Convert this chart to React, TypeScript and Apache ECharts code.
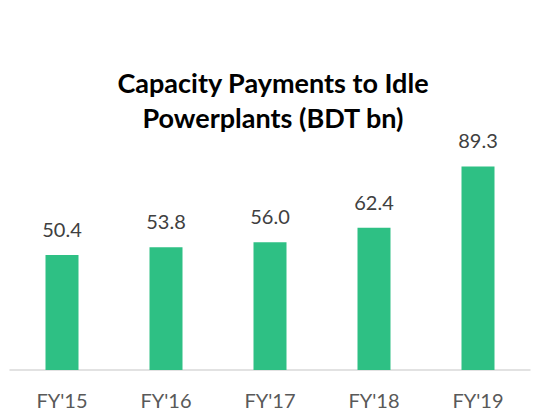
import React, { useEffect, useRef } from "react";
import * as echarts from "echarts";

const categories = ["FY'15", "FY'16", "FY'17", "FY'18", "FY'19"];
const values = [50.4, 53.8, 56.0, 62.4, 89.3];
const titleText = "Capacity Payments to Idle\nPowerplants (BDT bn)";

export default function App() {
  const ref = useRef<HTMLDivElement>(null);
  useEffect(() => {
    if (!ref.current) return;
    const chart = echarts.init(ref.current, undefined, { renderer: "svg" });
    chart.setOption({
      animation: false,
      backgroundColor: "#ffffff",
      title: {
        text: titleText,
        left: 268,
        textAlign: "center",
        top: 60,
        textStyle: {
          fontFamily: "Lato",
          fontWeight: "bold",
          fontSize: 27,
          lineHeight: 35,
          color: "#000000",
        },
      },
      grid: { left: 10, right: 4, top: 142, bottom: 41, containLabel: false },
      xAxis: {
        type: "category",
        data: categories,
        axisLine: { show: true, lineStyle: { color: "#d9d9d9", width: 1.5 } },
        axisTick: { show: false },
        axisLabel: {
          margin: 20,
          fontFamily: "Lato",
          fontSize: 20,
          color: "#595959",
        },
      },
      yAxis: {
        type: "value",
        min: 0,
        max: 100,
        show: false,
        splitLine: { show: false },
      },
      series: [
        {
          type: "bar",
          data: values,
          barWidth: 33,
          itemStyle: { color: "#2ec084" },
          label: {
            show: true,
            position: "top",
            distance: 16,
            fontFamily: "Lato",
            fontSize: 20,
            color: "#404040",
            formatter: (p: any) => Number(p.value).toFixed(1),
          },
        },
      ],
    });
    return () => chart.dispose();
  }, []);
  return <div ref={ref} style={{ width: 534, height: 411, position: "absolute", left: 0, top: 0 }} />;
}
